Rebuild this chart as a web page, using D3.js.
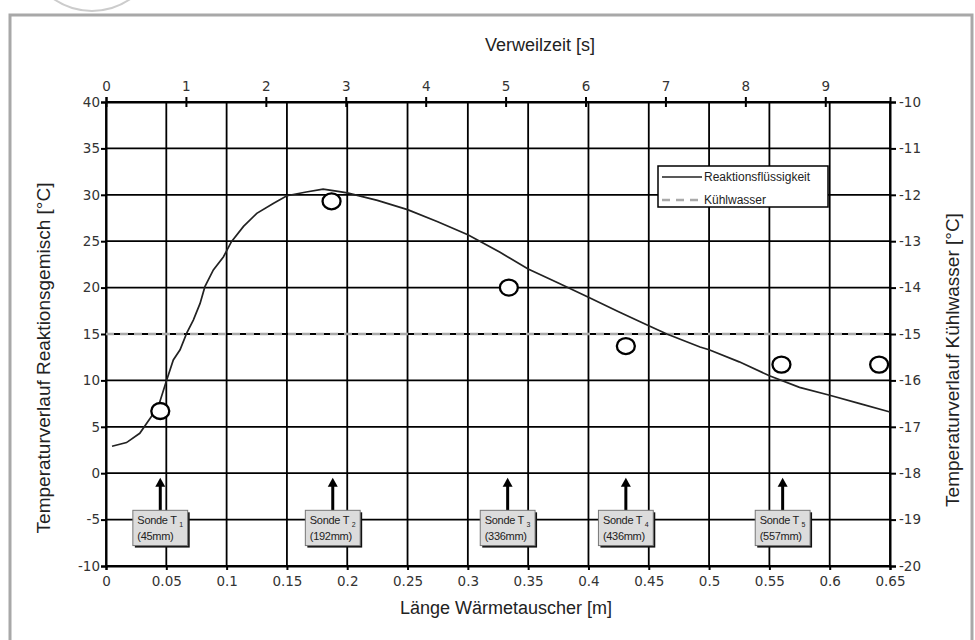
<!DOCTYPE html>
<html>
<head>
<meta charset="utf-8">
<script src="https://cdn.jsdelivr.net/npm/d3@7"></script>
<style>
  body { margin: 0; background: #fff; }
  .tick text { font-family: "DejaVu Sans", sans-serif; font-size: 13.5px; fill: #333; }
  .title { font-family: "Liberation Sans", Arial, sans-serif; font-size: 18px; fill: #222; }
</style>
</head>
<body>
<div id="chart"></div>
<script>
// Länge Wärmetauscher [m] und Temperatur Reaktionsflüssigkeit [°C]
const laenge = [0.005, 0.017, 0.028, 0.0365, 0.0434, 0.05, 0.0558, 0.0614, 0.0669, 0.0724, 0.078, 0.082,
  0.089, 0.0973, 0.104, 0.114, 0.125, 0.139, 0.15, 0.166, 0.18, 0.191, 0.2, 0.225, 0.25, 0.275, 0.3,
  0.3267, 0.35, 0.375, 0.4, 0.425, 0.45, 0.465, 0.4925, 0.5, 0.525, 0.55, 0.575, 0.6, 0.625, 0.65];
const tReaktion = [2.9, 3.3, 4.3, 5.9, 7.2, 9.9, 12.2, 13.3, 15.1, 16.5, 18.3, 20.1,
  21.9, 23.3, 24.95, 26.6, 28.0, 29.1, 29.9, 30.3, 30.6, 30.4, 30.2, 29.4, 28.4, 27.1, 25.7,
  23.8, 22.0, 20.5, 18.95, 17.4, 15.9, 15.0, 13.6, 13.3, 12.0, 10.5, 9.25, 8.4, 7.5, 6.6];

// Kühlwasser (rechte Achse)
const tKuehl = -15;

// Messpunkte (Kreise)
const probeX = [0.045, 0.187, 0.334, 0.431, 0.56, 0.641];
const probeT = [6.7, 29.3, 20.0, 13.7, 11.7, 11.7];

// Sonden
const sondeX = [0.045, 0.188, 0.333, 0.431, 0.561];
const sondeNr = ["1", "2", "3", "4", "5"];
const sondeMm = ["(45mm)", "(192mm)", "(336mm)", "(436mm)", "(557mm)"];

// Achsen
const xTicks = [0, 0.05, 0.1, 0.15, 0.2, 0.25, 0.3, 0.35, 0.4, 0.45, 0.5, 0.55, 0.6, 0.65];
const zeitTicks = [0, 1, 2, 3, 4, 5, 6, 7, 8, 9];
const zeitMax = 9.81;
const yTicks = [-10, -5, 0, 5, 10, 15, 20, 25, 30, 35, 40];
const y2Ticks = [-20, -19, -18, -17, -16, -15, -14, -13, -12, -11, -10];

var margin = {top: 102, right: 85, bottom: 74, left: 106},
    width = 975 - margin.left - margin.right,
    height = 640 - margin.top - margin.bottom;

var root = d3.select("#chart")
  .append("svg")
    .attr("width", 975)
    .attr("height", 640);

// Rahmen + Wasserzeichen
root.append("path")
  .attr("d", d3.arc()({innerRadius: 67, outerRadius: 67, startAngle: Math.PI * 0.62, endAngle: Math.PI * 1.38}))
  .attr("transform", "translate(92,-56)")
  .attr("fill", "none").attr("stroke", "#ccc").attr("stroke-width", 2);
root.append("rect")
  .attr("x", 10).attr("y", 15).attr("width", 962).attr("height", 650)
  .attr("fill", "none").attr("stroke", "#a8a8a8").attr("stroke-width", 3);

var svg = root.append("g")
  .attr("transform", "translate(" + margin.left + "," + margin.top + ")");

var x = d3.scaleLinear().domain([0, 0.65]).range([0, width]);
var xt = d3.scaleLinear().domain([0, zeitMax]).range([0, width]);
var y = d3.scaleLinear().domain([-10, 40]).range([height, 0]);
var y2 = d3.scaleLinear().domain([-20, -10]).range([height, 0]);

// Gitter
svg.append("g").selectAll("line")
  .data(xTicks)
  .join("line")
    .attr("x1", d => x(d)).attr("x2", d => x(d))
    .attr("y1", 0).attr("y2", height)
    .attr("stroke", "#000").attr("stroke-width", 1.8);
svg.append("g").selectAll("line")
  .data(yTicks)
  .join("line")
    .attr("x1", 0).attr("x2", width)
    .attr("y1", d => y(d)).attr("y2", d => y(d))
    .attr("stroke", "#000").attr("stroke-width", 1.8);

// Achsen
var axB = svg.append("g")
  .attr("transform", "translate(0," + height + ")")
  .call(d3.axisBottom(x).tickValues(xTicks).tickFormat(String).tickSize(4).tickPadding(6));
var axL = svg.append("g")
  .call(d3.axisLeft(y).tickValues(yTicks).tickFormat(String).tickSize(5).tickPadding(1));
var axR = svg.append("g")
  .attr("transform", "translate(" + width + ",0)")
  .call(d3.axisRight(y2).tickValues(y2Ticks).tickFormat(String).tickSize(6).tickPadding(3));
var axT = svg.append("g")
  .call(d3.axisTop(xt).tickValues(zeitTicks).tickFormat(String).tickSize(5).tickPadding(6));
axT.selectAll(".tick line").attr("y1", 5);

[axB, axL, axR, axT].forEach(a => {
  a.select(".domain").attr("stroke", "#000").attr("stroke-width", 2);
  a.selectAll(".tick line").attr("stroke", "#000").attr("stroke-width", 2);
});

// Kühlwasser
svg.append("line")
  .attr("x1", x(0)).attr("x2", x(0.65))
  .attr("y1", y2(tKuehl)).attr("y2", y2(tKuehl))
  .attr("stroke", "#aaa").attr("stroke-width", 2.4)
  .attr("stroke-dasharray", "8,6");

// Reaktionsflüssigkeit
var line = d3.line()
  .x((d, i) => x(laenge[i]))
  .y(d => y(d));
svg.append("path")
  .datum(tReaktion)
  .attr("d", line)
  .attr("fill", "none")
  .attr("stroke", "#222")
  .attr("stroke-width", 1.7);

// Messpunkte
svg.append("g").selectAll("ellipse")
  .data(probeX)
  .join("ellipse")
    .attr("cx", d => x(d))
    .attr("cy", (d, i) => y(probeT[i]))
    .attr("rx", 9).attr("ry", 8)
    .attr("fill", "#fff")
    .attr("stroke", "#000")
    .attr("stroke-width", 2.3);

// Sonden: Pfeile + Kästchen
var sonde = svg.append("g").selectAll("g")
  .data(sondeX)
  .join("g")
    .attr("transform", d => "translate(" + x(d) + ",0)");

sonde.append("line")
  .attr("x1", 0).attr("x2", 0)
  .attr("y1", y(-4)).attr("y2", y(-0.5) + 6)
  .attr("stroke", "#000").attr("stroke-width", 3);
sonde.append("path")
  .attr("d", "M0," + y(-0.5) + "L-5," + (y(-0.5) + 9) + "L5," + (y(-0.5) + 9) + "Z")
  .attr("fill", "#000");

sonde.each(function(d, i) {
  var g = d3.select(this);
  var shadow = g.append("rect");
  var box = g.append("rect");
  var t = g.append("text")
    .attr("font-family", "Liberation Sans, Arial, sans-serif")
    .attr("font-size", 11)
    .attr("letter-spacing", -0.3)
    .attr("fill", "#222");
  t.append("tspan").attr("x", 0).attr("y", y(-4) + 14).text("Sonde T ");
  t.append("tspan").attr("dy", 3).attr("font-size", 7).text(sondeNr[i]);
  t.append("tspan").attr("x", 0).attr("y", y(-4) + 30).text(sondeMm[i]);
  var bb = t.node().getBBox();
  var w = bb.width + 9;
  t.attr("transform", "translate(" + (-w / 2 + 4.5) + ",0)");
  shadow.attr("x", -w / 2 + 2).attr("y", y(-4) + 2)
    .attr("width", w).attr("height", y(-7.8) - y(-4))
    .attr("fill", "#111");
  box.attr("x", -w / 2).attr("y", y(-4))
    .attr("width", w).attr("height", y(-7.8) - y(-4))
    .attr("fill", "#dcdcdc").attr("stroke", "#777").attr("stroke-width", 1);
});

// Legende
var leg = svg.append("g").attr("transform", "translate(" + (658 - margin.left) + "," + (166 - margin.top) + ")");
leg.append("rect")
  .attr("width", 170).attr("height", 41)
  .attr("fill", "#fff").attr("stroke", "#000").attr("stroke-width", 1.5);
leg.append("line").attr("x1", 4).attr("x2", 44).attr("y1", 11).attr("y2", 11)
  .attr("stroke", "#222").attr("stroke-width", 1.7);
leg.append("line").attr("x1", 4).attr("x2", 44).attr("y1", 34).attr("y2", 34)
  .attr("stroke", "#aaa").attr("stroke-width", 2.4).attr("stroke-dasharray", "8,6");
leg.append("text").attr("x", 46).attr("y", 15).text("Reaktionsflüssigkeit")
  .attr("font-family", "Liberation Sans, Arial, sans-serif").attr("font-size", 12).attr("fill", "#222");
leg.append("text").attr("x", 46).attr("y", 38).text("Kühlwasser")
  .attr("font-family", "Liberation Sans, Arial, sans-serif").attr("font-size", 12).attr("fill", "#222");

// Titel
root.append("text").attr("class", "title")
  .attr("x", 540).attr("y", 51).attr("text-anchor", "middle")
  .attr("font-size", 17.5)
  .text("Verweilzeit [s]");
root.append("text").attr("class", "title")
  .attr("x", 506).attr("y", 614).attr("text-anchor", "middle")
  .text("Länge Wärmetauscher [m]");
root.append("text").attr("class", "title")
  .attr("transform", "translate(50,358)rotate(-90)").attr("text-anchor", "middle")
  .style("font-size", "19px")
  .text("Temperaturverlauf Reaktionsgemisch [°C]");
root.append("text").attr("class", "title")
  .attr("transform", "translate(959,360)rotate(-90)").attr("text-anchor", "middle")
  .style("font-size", "19px")
  .text("Temperaturverlauf Kühlwasser [°C]");
</script>
</body>
</html>
